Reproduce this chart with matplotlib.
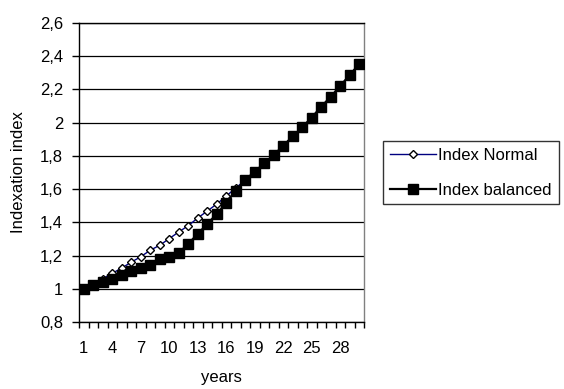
import matplotlib
matplotlib.use('Agg')
import matplotlib.pyplot as plt
from matplotlib.ticker import FixedLocator, FuncFormatter

plt.rcParams['font.family'] = ['Liberation Sans', 'DejaVu Sans']

years = list(range(1, 31))
index_normal = [1.000, 1.030, 1.061, 1.093, 1.125, 1.160, 1.193, 1.232, 1.262, 1.302,
                1.342, 1.380, 1.426, 1.468, 1.510, 1.558, 1.607, 1.654, 1.705, 1.755,
                1.805, 1.861, 1.918, 1.972, 2.031, 2.096, 2.156, 2.221, 2.287, 2.353]
index_balanced = [1.000, 1.020, 1.038, 1.058, 1.083, 1.105, 1.124, 1.143, 1.177, 1.193,
                  1.215, 1.271, 1.330, 1.390, 1.450, 1.518, 1.589, 1.655, 1.705, 1.755,
                  1.805, 1.861, 1.918, 1.972, 2.031, 2.096, 2.156, 2.221, 2.287, 2.353]
y_ticks = [0.8, 1.0, 1.2, 1.4, 1.6, 1.8, 2.0, 2.2, 2.4, 2.6]
x_tick_labels = [1, 4, 7, 10, 13, 16, 19, 22, 25, 28]
series_names = ['Index Normal', 'Index balanced']
x_label = 'years'
y_label = 'Indexation index'

FS = 12
W, H = 564, 389
fig = plt.figure(figsize=(W / 100, H / 100), dpi=100)
ax = fig.add_axes([79 / W, (H - 322) / H, (364 - 79) / W, (322 - 23) / H])

ax.plot(years, index_normal, color='#000080', lw=1.0, marker='D', ms=4.2,
        mfc='white', mec='black', mew=1.0, label=series_names[0], zorder=3)
ax.plot(years, index_balanced, color='black', lw=1.6, marker='s', ms=6.5,
        mfc='black', mec='black', label=series_names[1], zorder=4)

ax.set_xlim(0.5, 30.5)
ax.set_ylim(y_ticks[0], y_ticks[-1])

ax.yaxis.set_major_locator(FixedLocator(y_ticks))
ax.yaxis.set_major_formatter(FuncFormatter(lambda v, p: f"{v:g}".replace('.', ',')))
ax.xaxis.set_major_locator(FixedLocator(x_tick_labels))
ax.xaxis.set_minor_locator(FixedLocator([i + 0.5 for i in range(0, 31)]))
ax.tick_params(axis='x', which='major', length=0, pad=13.5, labelsize=FS)
ax.tick_params(axis='x', which='minor', length=4, width=1, direction='out', color='black')
ax.tick_params(axis='y', which='major', length=5, width=1, direction='out', pad=6.5, labelsize=FS)

ax.grid(axis='y', color='black', lw=0.9)
ax.set_axisbelow(True)
for s in ['left', 'bottom', 'top']:
    ax.spines[s].set_color('black')
    ax.spines[s].set_linewidth(1.0)
ax.spines['right'].set_color('#808080')
ax.spines['right'].set_linewidth(1.0)

ax.set_xlabel(x_label, fontsize=FS, labelpad=10.5)
ax.set_ylabel(y_label, fontsize=FS, labelpad=10)

leg = fig.legend(loc='upper left', bbox_to_anchor=(383 / W, 1 - 141 / H),
                 fontsize=FS, frameon=True, fancybox=False, edgecolor='black',
                 handlelength=2.8, handletextpad=0.12, labelspacing=1.2,
                 borderpad=0.4, borderaxespad=0)
leg.get_frame().set_linewidth(1.0)

fig.savefig('out.png', dpi=100)
